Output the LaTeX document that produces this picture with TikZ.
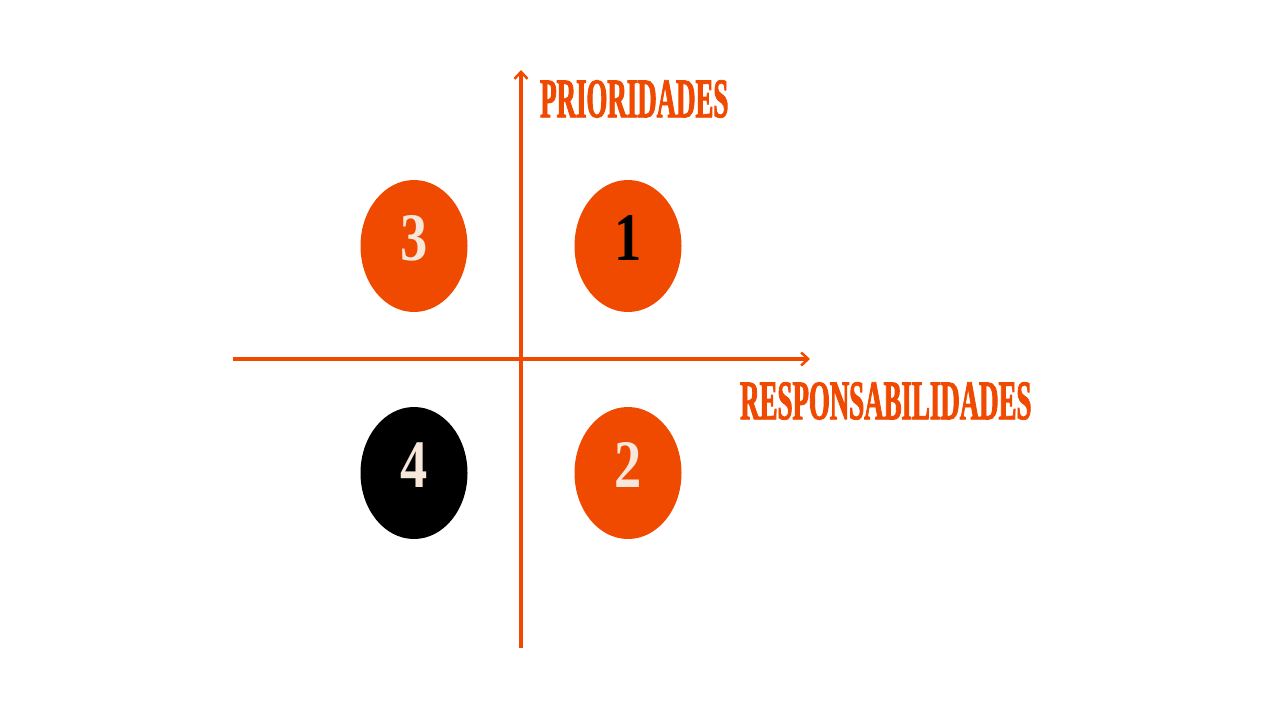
\documentclass[tikz,border=0pt]{standalone}
\usepackage{fontspec}
\usetikzlibrary{shapes.geometric, arrows.meta}
\newfontfamily\labelfont[FakeStretch=0.48, FakeBold=1.5]{Liberation Serif}
\newfontfamily\digitfont[FakeStretch=0.8]{Liberation Serif}
\definecolor{accent}{HTML}{F04A00}
\definecolor{cream}{HTML}{F6E7DA}
\begin{document}
\begin{tikzpicture}[
    x=1pt, y=-1pt,
    axis/.style={draw=accent, line width=3.5pt, -{Straight Barb[length=7pt, width=13pt, line width=2.5pt]}},
    quad/.style={ellipse, fill=accent, minimum width=107pt, minimum height=132pt, inner sep=0pt,
      text depth=16pt, font=\digitfont\bfseries\fontsize{68}{68}\selectfont, text=cream},
    axislabel/.style={anchor=west, inner sep=0pt, text=accent, font=\labelfont\bfseries\fontsize{56}{56}\selectfont}
  ]
    \useasboundingbox (0,0) rectangle (1280,720);

    % axes
    \coordinate (yfoot) at (521,648);
    \coordinate (ytip) at (521,70);
    \coordinate (xfoot) at (233,359);
    \coordinate (xtip) at (810,359);
    \draw[axis] (yfoot) -- (ytip);
    \draw[axis] (xfoot) -- (xtip);

    \node[axislabel] (prio) at (540,99) {PRIORIDADES};
    \node[axislabel] (resp) at (740,401) {RESPONSABILIDADES};

    % quadrants
    \node[quad] (q3) at (414,246) {3};
    \node[quad, text=black] (q1) at (628,246) {1};
    \node[quad, fill=black] (q4) at (414,473) {4};
    \node[quad] (q2) at (628,473) {2};
\end{tikzpicture}
\end{document}
